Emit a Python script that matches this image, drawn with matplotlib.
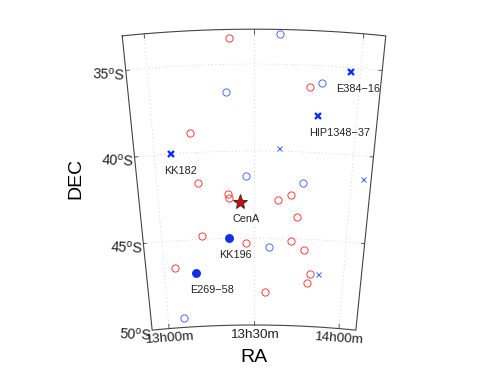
import numpy as np
import matplotlib
matplotlib.use("Agg")
import matplotlib.pyplot as plt

plt.rcParams['font.family'] = ['Liberation Sans', 'DejaVu Sans']
plt.rcParams['mathtext.fontset'] = 'custom'
plt.rcParams['mathtext.rm'] = 'Liberation Sans'

# RA in minutes of time, DEC in degrees
red_ra = [803.0, 826.0, 791.1, 792.7, 802.0, 802.3, 817.6, 821.6, 823.6, 793.2,
          807.4, 822.0, 826.3, 783.6, 828.7, 828.0, 813.7]
red_dec = [-33.49, -36.26, -38.85, -41.78, -42.47, -42.67, -42.80, -42.51, -43.73, -44.83,
           -45.30, -45.14, -45.63, -46.53, -46.97, -47.51, -48.11]

open_ra = [817.1, 829.4, 801.9, 807.5, 825.0, 814.8, 785.5]
open_dec = [-33.28, -35.98, -36.57, -41.42, -41.80, -45.49, -49.44]

small_x_ra = [817.4, 843.5, 831.4]
small_x_dec = [-39.83, -41.32, -46.96]

bold_x_names = ['E384\u221216', 'HIP1348\u221237', 'KK182']
bold_x_ra = [837.2, 828.6, 785.0]
bold_x_dec = [-35.26, -37.91, -40.02]

filled_names = ['KK196', 'E269\u221258']
filled_ra = [801.9, 790.6]
filled_dec = [-45.00, -46.94]

star_name = 'CenA'
star_ra = [805.5]
star_dec = [-42.94]

ra_ticks = [780, 810, 840]
ra_labels = ['13h00m', '13h30m', '14h00m']
dec_ticks = [-35, -40, -45, -50]
dec_labels = ['35$^{\\rm o}$S', '40$^{\\rm o}$S', '45$^{\\rm o}$S', '50$^{\\rm o}$S']

ra_min, ra_max = 774.0, 846.0
dec_min, dec_max = -50.0, -33.0

# conic projection, units are degrees of DEC
cone = 0.645
r_bottom = 1007 / 17.4

def project(ra, dec):
    theta = np.radians((np.asarray(ra, dtype=float) - 810.0) * 15.0 / 60.0 * cone)
    r = r_bottom + (np.asarray(dec, dtype=float) - dec_min)
    return r * np.sin(theta), r * np.cos(theta)

W, H = 491, 371
scale = 17.4
fig = plt.figure(figsize=(W / 100, H / 100), dpi=100)
ax = fig.add_axes([0, 0, 1, 1])
ax.set_xlim(-254 / scale, (W - 254) / scale)
ax.set_ylim((1332 - H) / scale, 1332 / scale)
ax.axis('off')

# grid
for t in ra_ticks:
    ax.plot(*project(np.full(50, t), np.linspace(dec_min, dec_max, 50)),
            color='#c4c4c4', lw=0.6, ls=(0, (1, 3.5)), zorder=1)
for d in dec_ticks[:-1]:
    ax.plot(*project(np.linspace(ra_min, ra_max, 50), np.full(50, d)),
            color='#c4c4c4', lw=0.6, ls=(0, (1, 3.5)), zorder=1)

# frame
ras = np.concatenate([np.linspace(ra_min, ra_max, 60), np.linspace(ra_max, ra_min, 60), [ra_min]])
decs = np.concatenate([np.full(60, dec_max), np.full(60, dec_min), [dec_max]])
ax.plot(*project(ras, decs), color='#444444', lw=0.8, zorder=2)

# ticks
for t in ra_ticks:
    ax.plot(*project([t, t], [dec_min, dec_min + 0.25]), color='#444444', lw=0.6, zorder=2)
    ax.plot(*project([t, t], [dec_max, dec_max - 0.25]), color='#444444', lw=0.6, zorder=2)
for d in dec_ticks[:-1]:
    ax.plot(*project([ra_min, ra_min + 1.0], [d, d]), color='#444444', lw=0.6, zorder=2)
    ax.plot(*project([ra_max, ra_max - 1.0], [d, d]), color='#444444', lw=0.6, zorder=2)

# tick labels
rots = [4, 0, -4]
for t, lab, rot in zip(ra_ticks, ra_labels, rots):
    x, y = project(t, dec_min)
    ax.text(x, y - 0.22, lab, fontsize=9.7, ha='center', va='top', rotation=rot,
            rotation_mode='anchor', color='#222222')
for d, lab in zip(dec_ticks, dec_labels):
    x, y = project(ra_min, d)
    ax.text(x - 0.02, y - 0.27, lab, fontsize=10.3, ha='right', va='center', rotation=-3,
            rotation_mode='anchor', color='#222222')

ax.plot(*project(red_ra, red_dec), 'o', mfc='none', mec='#ff3030', mew=0.65, ms=5.2, zorder=3)
ax.plot(*project(open_ra, open_dec), 'o', mfc='none', mec='#4060ff', mew=0.65, ms=5.2, zorder=3)
ax.plot(*project(small_x_ra, small_x_dec), 'x', color='#4060ff', mew=0.7, ms=3.6, zorder=3)
ax.plot(*project(bold_x_ra, bold_x_dec), 'x', color='#1030ff', mew=1.7, ms=4.0, zorder=3)
ax.plot(*project(filled_ra, filled_dec), 'o', color='#1030e8', ms=5.4, zorder=3)
ax.plot(*project(star_ra, star_dec), '*', mfc='#e00000', mec='#333333', mew=0.7, ms=11, zorder=4)

# object names sit below their marks
for ra, dec, name in zip(bold_x_ra + filled_ra + star_ra,
                         bold_x_dec + filled_dec + star_dec,
                         bold_x_names + filled_names + [star_name]):
    x, y = project(ra, dec)
    shift = {'E384\u221216': 0.43, 'HIP1348\u221237': 1.25, 'KK182': 0.57,
             'KK196': 0.35, 'E269\u221258': 0.92, 'CenA': 0.36}[name]
    ax.text(x + shift, y - 0.68, name, fontsize=7.8, ha='center', va='top', color='#222222')

ax.text((76 - 254) / scale, (1332 - 178) / scale, 'DEC', fontsize=14, rotation=90,
        ha='center', va='center', color='black')
ax.text(0, (1332 - 358) / scale, 'RA', fontsize=14, ha='center', va='center', color='black')

fig.savefig('out.png', dpi=100)
